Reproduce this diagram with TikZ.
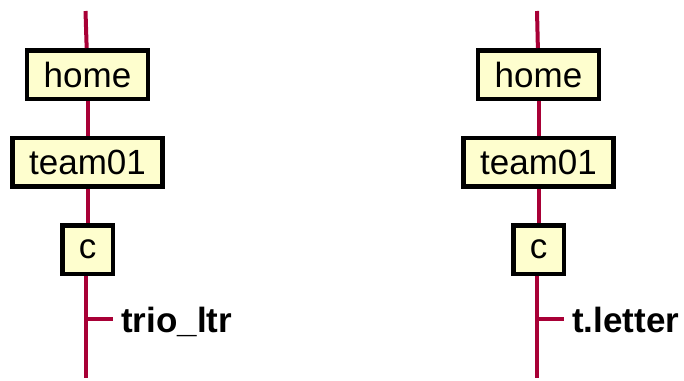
\documentclass[tikz,border=0pt]{standalone}
\usepackage{fontspec}
\setmainfont{Liberation Sans}
\usepackage{xcolor}
\usepackage{tikz}
\usetikzlibrary{positioning}
\definecolor{linkred}{HTML}{A80036}
\definecolor{boxfill}{HTML}{FEFECE}

\begin{document}
\begin{tikzpicture}[x=1pt,y=-1pt]
            % Define style for the boxes and lines
            \tikzstyle{dirbox} = [draw, line width=4.5pt, fill=boxfill, minimum height=48.5pt, inner xsep=16.5pt, inner ysep=0pt, font=\fontsize{35}{40}\selectfont]
            \tikzstyle{link} = [draw=linkred, line width=4pt]
            \tikzstyle{leaf} = [inner sep=0pt, anchor=base west, font=\fontsize{35}{40}\selectfont\bfseries]

            \useasboundingbox (0,0) rectangle (684,380);

            % Left path
            \coordinate (ltop) at (85.5,11);
            \node [dirbox] (lhome) at (87.5,74.5) {home};
            \node [dirbox] (lteam) at (87.5,162) {team01};
            \node [dirbox] (lc) at (87.5,249.5) {c};
            \coordinate (lfork) at (85.5,319);
            \coordinate (lbot) at (85.5,378);
            \node [leaf] (lfile) at (121,332) {trio\_ltr};

            \draw [link] (ltop) -- (lhome);
            \draw [link] (lhome) -- (lteam);
            \draw [link] (lteam) -- (lc);
            \draw [link] (lc.south -| lfork) -- (lbot);
            \draw [link] (lfork) -- ([xshift=-8pt]lfile.west |- lfork);

            % Right path
            \coordinate (rtop) at (537,11);
            \node [dirbox] (rhome) at (538.5,74.5) {home};
            \node [dirbox] (rteam) at (538.5,162) {team01};
            \node [dirbox] (rc) at (538.5,249.5) {c};
            \coordinate (rfork) at (537,319);
            \coordinate (rbot) at (537,378);
            \node [leaf] (rfile) at (572,332) {t.letter};

            \draw [link] (rtop) -- (rhome);
            \draw [link] (rhome) -- (rteam);
            \draw [link] (rteam) -- (rc);
            \draw [link] (rc.south -| rfork) -- (rbot);
            \draw [link] (rfork) -- ([xshift=-8pt]rfile.west |- rfork);
\end{tikzpicture}
\end{document}
